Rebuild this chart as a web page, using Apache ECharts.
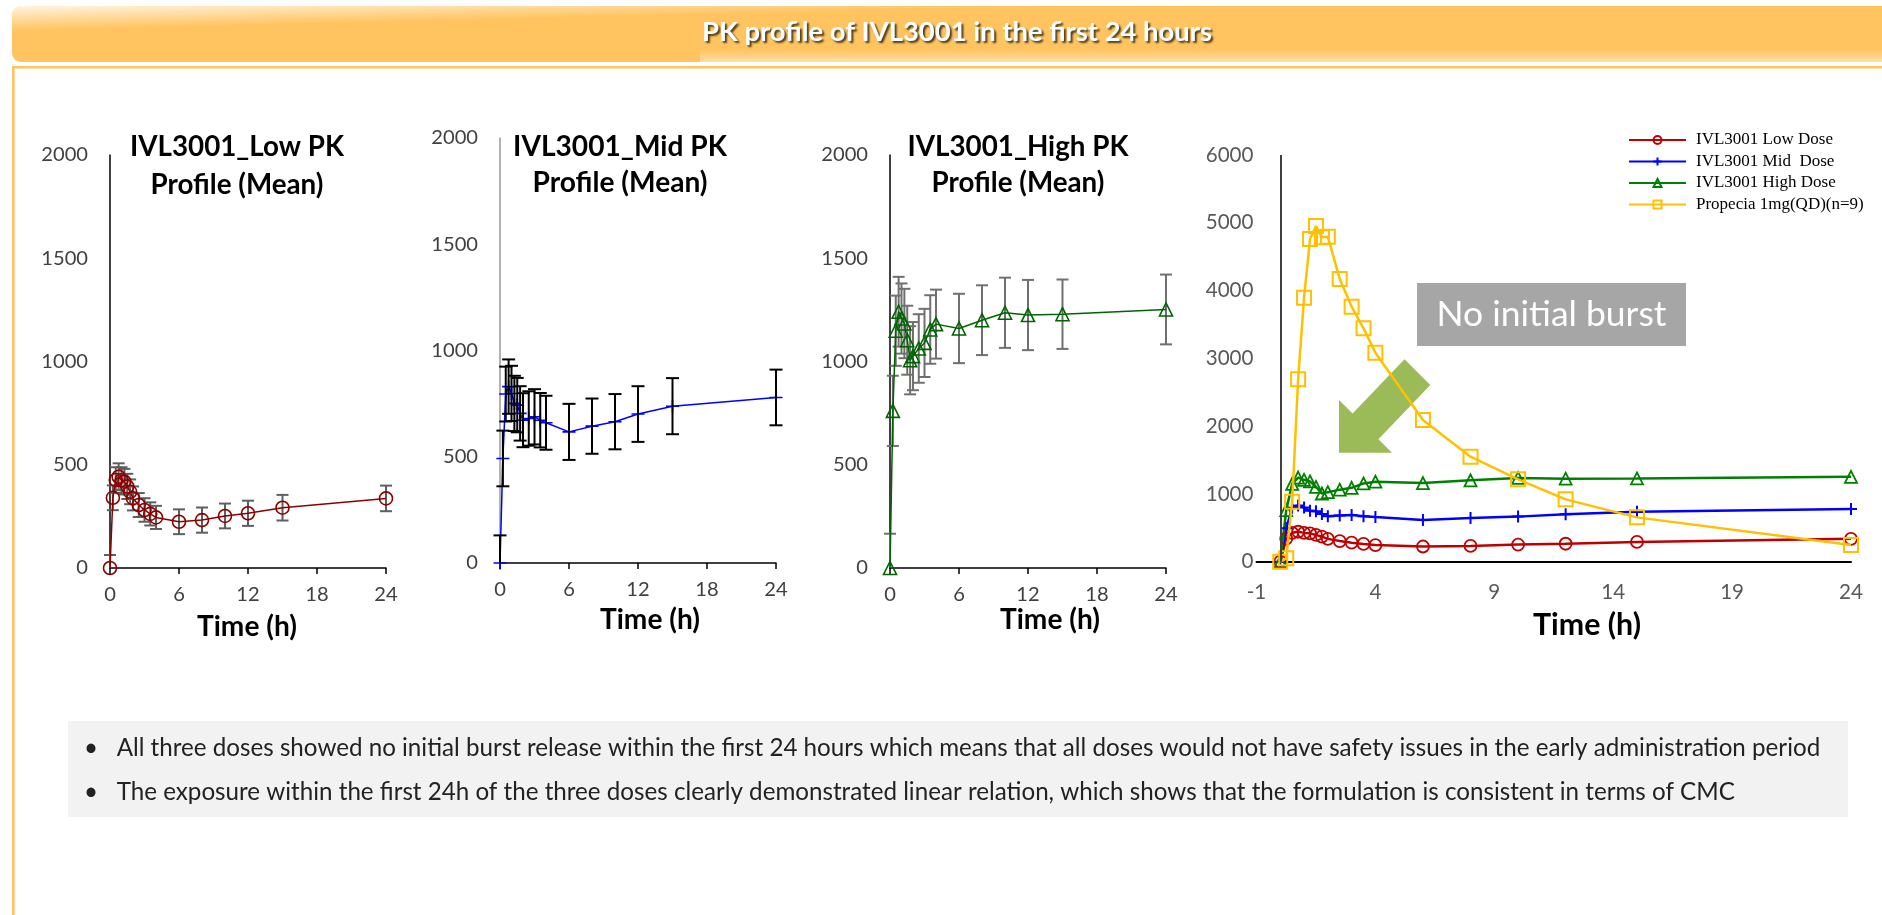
<!DOCTYPE html>
<html>
<head>
<meta charset="utf-8">
<script src="https://cdn.jsdelivr.net/npm/echarts@6/dist/echarts.min.js"></script>
<style>
html,body{margin:0;padding:0;background:#fff;}
#c{width:1882px;height:915px;}
</style>
</head>
<body>
<div id="c"></div>
<script>
// ---------------- DATA ----------------
const times = [0, 0.25, 0.5, 0.75, 1, 1.25, 1.5, 1.75, 2, 2.5, 3, 3.5, 4, 6, 8, 10, 12, 15, 24];

const lowMean  = [0, 340, 426, 442, 425, 418, 395, 369, 337, 305, 281, 262, 245, 224, 232, 252, 265, 292, 337];
const lowSD    = [63, 60, 62, 65, 63, 62, 61, 60, 58, 58, 57, 56, 56, 60, 61, 60, 61, 62, 62];

const midMean  = [0, 492, 795, 830, 798, 751, 743, 704, 672, 680, 688, 672, 660, 617, 644, 665, 701, 738, 779];
const midSD    = [130, 131, 129, 128, 130, 130, 128, 128, 127, 128, 130, 128, 127, 132, 130, 130, 131, 132, 131];

const highMean = [0, 761, 1149, 1241, 1208, 1184, 1103, 1006, 1026, 1063, 1090, 1155, 1181, 1160, 1200, 1236, 1225, 1229, 1252];
const highSD   = [166, 170, 170, 169, 170, 168, 167, 165, 165, 166, 165, 166, 167, 168, 169, 170, 170, 168, 169];

const propecia = [0, 50, 885, 2690, 3895, 4760, 4952, 4785, 4795, 4170, 3762, 3443, 3084, 2090, 1549, 1215, 920, 654, 246];

const xTicksSmall = [0, 6, 12, 18, 24];
const xTicksCombined = [-1, 4, 9, 14, 19, 24];

const seriesNames = ['IVL3001 Low Dose', 'IVL3001 Mid  Dose', 'IVL3001 High Dose', 'Propecia 1mg(QD)(n=9)'];
const chartTitles = [
  ['IVL3001_Low PK', 'Profile (Mean)'],
  ['IVL3001_Mid PK', 'Profile (Mean)'],
  ['IVL3001_High PK', 'Profile (Mean)']
];
const pageTitle = 'PK profile of IVL3001 in the first 24 hours';
const axisNameText = 'Time (h)';
const calloutText = 'No initial burst';
const bullets = [
  'All three doses showed no initial burst release within the first 24 hours which means that all doses would not have safety issues in the early administration period',
  'The exposure within the first 24h of the three doses clearly demonstrated linear relation, which shows that the formulation is consistent in terms of CMC'
];

// ---------------- LAYOUT / STYLE ----------------
const SANS = 'Lato';
const SERIF = 'Liberation Serif';
const mctx = document.createElement('canvas').getContext('2d');
function fitSize(text, weight, family, target) {
  mctx.font = weight + ' 100px ' + family;
  return 100 * target / mctx.measureText(text).width;
}
const pageTitleSize = fitSize(pageTitle, 'bold', SANS, 510);
const chartTitleSizes = [fitSize(chartTitles[0][0], 'bold', SANS, 214), fitSize(chartTitles[1][0], 'bold', SANS, 214), fitSize(chartTitles[2][0], 'bold', SANS, 221)];
const axisNameSize = fitSize(axisNameText, 'bold', SANS, 100);
const axisNameSize4 = fitSize(axisNameText, 'bold', SANS, 108);
const bulletSize = fitSize(bullets[0], 'normal', SANS, 1704);
const calloutSize = fitSize(calloutText, 'normal', SANS, 230);
const legendSize = 17;
const tickSize = fitSize('2000', 'normal', SANS, 46.7);
const tickSize4 = fitSize('6000', 'normal', SANS, 47.8);
const plainNum = function (v) { return String(v); };

const plusPath = 'path://M0,5L10,5M5,0L5,10';

const grids = [
  {left: 110, top: 155, width: 276, height: 413},
  {left: 500, top: 138, width: 276, height: 425},
  {left: 890, top: 155, width: 276, height: 413},
  {left: 1256.5, top: 155, width: 594.5, height: 406.7}
];

function pairs(vals) { return times.map((t, i) => [t, vals[i]]); }

function errSeries(idx, mean, sd, color, capHalf, lw, z) {
  return {
    type: 'custom', xAxisIndex: idx, yAxisIndex: idx, z: z, silent: true,
    data: times.map((t, i) => [t, mean[i], sd[i]]),
    encode: {x: 0, y: 1},
    renderItem: function (params, api) {
      const t = api.value(0), m = api.value(1), s = api.value(2);
      const lo = Math.max(m - s, 0);
      const pTop = api.coord([t, m + s]);
      const pBot = api.coord([t, lo]);
      const st = {stroke: color, lineWidth: lw};
      const children = [
        {type: 'line', shape: {x1: pTop[0], y1: pTop[1], x2: pBot[0], y2: pBot[1]}, style: st},
        {type: 'line', shape: {x1: pTop[0] - capHalf, y1: pTop[1], x2: pTop[0] + capHalf, y2: pTop[1]}, style: st}
      ];
      if (m - s >= 0) {
        children.push({type: 'line', shape: {x1: pBot[0] - capHalf, y1: pBot[1], x2: pBot[0] + capHalf, y2: pBot[1]}, style: st});
      }
      return {type: 'group', children: children};
    }
  };
}

function lineSeries(name, idx, vals, color, symbol, size, lw, bw, z) {
  return {
    type: 'line', name: name, xAxisIndex: idx, yAxisIndex: idx, z: z,
    data: pairs(vals), symbol: symbol, symbolSize: size, showSymbol: true,
    lineStyle: {color: color, width: lw},
    itemStyle: {color: 'transparent', borderColor: color, borderWidth: bw},
    emphasis: {disabled: true}, silent: true
  };
}

const xAxes = [], yAxes = [];
for (let i = 0; i < 3; i++) {
  xAxes.push({
    gridIndex: i, type: 'value', min: 0, max: 24, interval: 6,
    axisLine: {show: true, onZero: true, lineStyle: {color: '#000', width: 1.5}},
    axisTick: {show: true, inside: false, length: 6, lineStyle: {color: '#000', width: 1.5}},
    axisLabel: {fontFamily: SANS, fontSize: tickSize, color: '#404040', margin: 17, formatter: plainNum},
    splitLine: {show: false}
  });
  yAxes.push({
    gridIndex: i, type: 'value', min: 0, max: 2000, interval: 500,
    axisLine: {show: true, lineStyle: {color: i === 1 ? '#9a9a9a' : '#000', width: 1.5}},
    axisTick: {show: false},
    axisLabel: {fontFamily: SANS, fontSize: tickSize, color: '#404040', margin: 22, formatter: plainNum},
    splitLine: {show: false}
  });
}
xAxes.push({
  gridIndex: 3, type: 'value', min: -1, max: 24, interval: 5,
  axisLine: {show: true, onZero: true, lineStyle: {color: '#000', width: 2}},
  axisTick: {show: false, customValues: xTicksCombined},
  axisLabel: {customValues: xTicksCombined, fontFamily: SANS, fontSize: tickSize4, color: '#595959', margin: 20, formatter: plainNum},
  splitLine: {show: false}
});
yAxes.push({
  gridIndex: 3, type: 'value', min: 0, max: 6000, interval: 1000,
  axisLine: {show: false},
  axisTick: {show: false},
  axisLabel: {fontFamily: SANS, fontSize: tickSize4, color: '#595959', margin: 3, formatter: plainNum},
  splitLine: {show: false}
});

const series = [
  errSeries(0, lowMean, lowSD, '#5f5f5f', 6, 2, 2),
  lineSeries('Low PK', 0, lowMean, '#8B0000', 'circle', 13, 1.5, 1.6, 3),
  lineSeries('Mid PK', 1, midMean, '#0000FF', plusPath, 13, 1.5, 1.6, 3),
  errSeries(1, midMean, midSD, '#000000', 6.5, 2, 4),
  errSeries(2, highMean, highSD, '#707070', 6, 2, 2),
  lineSeries('High PK', 2, highMean, '#006400', 'triangle', 13, 1.5, 1.6, 3),
  lineSeries(seriesNames[0], 3, lowMean, '#C00000', 'circle', 12, 2.5, 1.8, 3),
  lineSeries(seriesNames[1], 3, midMean, '#0000FF', plusPath, 12, 2.5, 2, 3),
  lineSeries(seriesNames[2], 3, highMean, '#008000', 'triangle', 12, 2.5, 1.8, 3),
  lineSeries(seriesNames[3], 3, propecia, '#FFC000', 'rect', 14, 2.5, 2, 4)
];
series[6].markLine = {
  silent: true, symbol: ['none', 'none'], label: {show: false},
  lineStyle: {color: '#404040', width: 2, type: 'solid'},
  data: [{xAxis: 0}]
};

// legends: one per row, so each row sits exactly where the reference has it
const legendRowCenters = [140, 161.5, 183, 204.5];
const legends = seriesNames.map(function (n, i) {
  return {
    show: true, orient: 'vertical', left: 1628, top: legendRowCenters[i] - legendSize / 2,
    itemWidth: 57, itemHeight: 10, padding: 0,
    data: [n], selectedMode: false,
    formatter: '{t|{name}}',
    textStyle: {
      fontFamily: SERIF, fontSize: legendSize, color: '#000',
      rich: {t: {fontFamily: SERIF, fontSize: legendSize, color: '#000', padding: [0, 0, 0, 5], lineHeight: legendSize}}
    }
  };
});

// ---------------- GRAPHICS ----------------
const chartTitlePos = [[237, 147, 185], [620, 147, 183], [1018, 147, 183]];
const axisNamePos = [[247, 627, axisNameSize], [650, 620, axisNameSize], [1050, 620, axisNameSize], [1587, 625, axisNameSize4]];

const graphics = [
  {type: 'rect', z: 0, shape: {x: 12, y: 6, width: 1880, height: 56, r: [9, 0, 0, 9]}, style: {fill: '#FFC460'}},
  {type: 'rect', z: 1, shape: {x: 12, y: 6, width: 1200, height: 34, r: [9, 0, 0, 0]},
    style: {fill: {type: 'linear', x: 0, y: 0, x2: 0.0005, y2: 0.735, colorStops: [
      {offset: 0, color: 'rgba(255,255,255,0.8)'}, {offset: 1, color: 'rgba(255,255,255,0)'}]}}},
  {type: 'rect', z: 1, shape: {x: 700, y: 50, width: 1190, height: 12},
    style: {fill: {type: 'linear', x: 0, y: 0, x2: 0, y2: 1, colorStops: [
      {offset: 0, color: 'rgba(255,255,255,0)'}, {offset: 1, color: 'rgba(255,255,255,0.45)'}]}}},
  {type: 'rect', z: 1, shape: {x: 13.3, y: 67.3, width: 2000, height: 1000}, style: {fill: 'none', stroke: '#FFC460', lineWidth: 2.6}},
  {type: 'text', z: 2, x: 957, y: 32, style: {text: pageTitle, fill: '#fff', font: 'bold ' + pageTitleSize.toFixed(2) + 'px ' + SANS,
    align: 'center', verticalAlign: 'middle', textShadowColor: 'rgba(0,0,0,0.7)', textShadowBlur: 2, textShadowOffsetX: 2, textShadowOffsetY: 2}},
  {type: 'rect', z: 0, shape: {x: 68, y: 721, width: 1780, height: 96}, style: {fill: '#F2F2F2'}},
  {type: 'rect', z: 0, shape: {x: 1417, y: 283, width: 269, height: 63}, style: {fill: '#A6A6A6'}},
  {type: 'text', z: 2, x: 1551.5, y: 315, style: {text: calloutText, fill: '#fff', font: calloutSize.toFixed(2) + 'px ' + SANS, align: 'center', verticalAlign: 'middle'}},
  {type: 'polygon', z: 2, shape: {points: [[1339, 452.7], [1339, 400], [1352.6, 413.5], [1404.5, 359.3], [1430.3, 385.1], [1378.4, 439.3], [1392, 452.7]]}, style: {fill: '#9BBB59'}}
];
bullets.forEach(function (b, i) {
  const y = [748, 792][i];
  graphics.push({type: 'text', z: 2, x: 91, y: y, style: {text: '\u2022', fill: '#222', font: bulletSize.toFixed(2) + 'px ' + SANS, align: 'center', verticalAlign: 'middle'}});
  graphics.push({type: 'text', z: 2, x: 116.7, y: y, style: {text: b, fill: '#222', font: bulletSize.toFixed(2) + 'px ' + SANS, align: 'left', verticalAlign: 'middle'}});
});
chartTitles.forEach(function (lines, i) {
  const p = chartTitlePos[i];
  lines.forEach(function (l, j) {
    graphics.push({type: 'text', z: 2, x: p[0], y: p[1 + j], style: {text: l, fill: '#000', font: 'bold ' + chartTitleSizes[i].toFixed(2) + 'px ' + SANS, align: 'center', verticalAlign: 'middle'}});
  });
});
axisNamePos.forEach(function (p) {
  graphics.push({type: 'text', z: 2, x: p[0], y: p[1], style: {text: axisNameText, fill: '#000', font: 'bold ' + p[2].toFixed(2) + 'px ' + SANS, align: 'center', verticalAlign: 'middle'}});
});

const option = {
  animation: false,
  backgroundColor: '#fff',
  grid: grids,
  xAxis: xAxes,
  yAxis: yAxes,
  legend: legends,
  graphic: graphics,
  series: series
};

const chart = echarts.init(document.getElementById('c'), null, {renderer: 'canvas'});
chart.setOption(option);
</script>
</body>
</html>
